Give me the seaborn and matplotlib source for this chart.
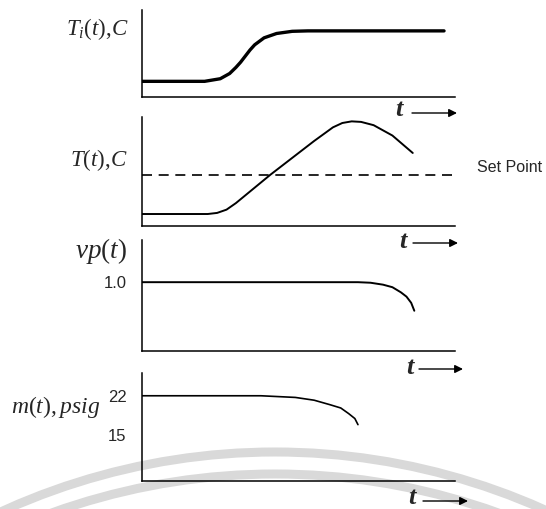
import matplotlib
matplotlib.use("Agg")
import matplotlib.pyplot as plt
from matplotlib.patches import Arc
import seaborn as sns

# ---- data ----
t_ti = [0, 2.0, 2.5, 2.8, 3.0, 3.15, 3.3, 3.45, 3.6, 3.9, 4.3, 4.8, 5.3, 9.65]
Ti = [0.18, 0.18, 0.21, 0.27, 0.34, 0.40, 0.47, 0.54, 0.60, 0.68, 0.73, 0.755, 0.76, 0.76]

t_T = [0, 2.1, 2.4, 2.7, 3.0, 4.1, 5.5, 6.1, 6.4, 6.7, 7.0, 7.4, 8.0, 8.65]
T = [0.11, 0.11, 0.12, 0.15, 0.21, 0.47, 0.78, 0.905, 0.945, 0.96, 0.955, 0.925, 0.83, 0.67]
set_point = 0.47

t_vp = [0, 6.9, 7.3, 7.7, 8.0, 8.27, 8.45, 8.6, 8.7]
vp = [1.0, 1.0, 0.992, 0.964, 0.927, 0.853, 0.79, 0.70, 0.585]

t_m = [0, 3.8, 4.9, 5.5, 6.0, 6.35, 6.6, 6.8, 6.9]
m = [22, 22, 21.7, 21.2, 20.4, 19.8, 18.8, 17.9, 16.8]

vp_ticks = [1.0]
vp_ticklabels = ["1.0"]
m_ticks = [22, 15]
m_ticklabels = ["22", "15"]

# ---- style ----
sns.set_style("white")
plt.rcParams["mathtext.fontset"] = "custom"
plt.rcParams["mathtext.it"] = "Liberation Serif:italic"
plt.rcParams["mathtext.rm"] = "Liberation Serif"
plt.rcParams["font.family"] = ["Liberation Sans", "DejaVu Sans"]

W, H = 546, 509
fig = plt.figure(figsize=(W / 100, H / 100), dpi=100)
fig.patch.set_facecolor("white")


def fx(x):
    return x / W


def fy(y):
    return 1 - y / H


# watermark arcs (behind everything)
for cy, r in [(1110, 658), (1134, 660)]:
    arc = Arc((275, H - cy), 2 * r, 2 * r, theta1=55, theta2=125,
              transform=None, color="#d9d9d9", lw=6.5, zorder=-5)
    fig.add_artist(arc)

left, right = 142, 455
panels = [(10, 97), (117, 226), (240, 351), (373, 481)]
axes = []
for top, bot in panels:
    ax = fig.add_axes([fx(left), fy(bot), fx(right - left), (bot - top) / H])
    ax.set_facecolor("none")
    ax.set_zorder(1)
    ax.set_xlim(0, 10)
    sns.despine(ax=ax)
    for s in ("left", "bottom"):
        ax.spines[s].set_color("black")
        ax.spines[s].set_linewidth(1.1)
    axes.append(ax)

ax1, ax2, ax3, ax4 = axes

sns.lineplot(x=t_ti, y=Ti, ax=ax1, color="black", lw=2.4)
ax1.set_ylim(0, 1)

ax2.axhline(set_point, xmin=0, xmax=1.0, color="black", lw=1.2, ls=(0, (6, 4)))
sns.lineplot(x=t_T, y=T, ax=ax2, color="black", lw=1.4)
ax2.set_ylim(0, 1)

sns.lineplot(x=t_vp, y=vp, ax=ax3, color="black", lw=1.4)
ax3.set_ylim(0, 1.613)

sns.lineplot(x=t_m, y=m, ax=ax4, color="black", lw=1.2)
ax4.set_ylim(6.65, 26.1)

for ax in axes:
    ax.set_xticks([])
    ax.set_yticks([])
    ax.set_xlabel("")
    ax.set_ylabel("")

ax3.set_yticks(vp_ticks)
ax3.set_yticklabels(vp_ticklabels, fontsize=12)
ax4.set_yticks(m_ticks)
ax4.set_yticklabels(m_ticklabels, fontsize=12)
for ax in (ax3, ax4):
    ax.tick_params(axis="y", length=0, pad=11)

# y labels
fig.text(fx(128), fy(29), r"$T_i(t){,}C$", ha="right", va="center", fontsize=16.5)
fig.text(fx(128), fy(160), r"$T(t){,}C$", ha="right", va="center", fontsize=16.5)
fig.text(fx(127), fy(251), r"$vp(t)$", ha="right", va="center", fontsize=19.5)
fig.text(fx(100), fy(407), r"$m(t),psig$", ha="right", va="center", fontsize=17)
fig.text(fx(477), fy(167), "Set Point", ha="left", va="center", fontsize=11.5)

# t arrows
for tx, ty, x0, x1, ay in [(399, 110, 412, 457, 113), (403, 241, 413, 458, 243),
                           (410, 367, 419, 463, 369), (412, 498, 423, 468, 501)]:
    fig.text(fx(tx), fy(ty), "t", ha="center", va="center", fontsize=19,
             family="Liberation Serif", style="italic", weight="bold", zorder=3)
    arr = matplotlib.patches.FancyArrowPatch((fx(x0), fy(ay)), (fx(x1), fy(ay)),
                                             transform=fig.transFigure,
                                             arrowstyle="-|>", color="black", lw=1.0,
                                             mutation_scale=12, shrinkA=0, shrinkB=0,
                                             zorder=3)
    fig.add_artist(arr)

fig.savefig("out.png", dpi=100, facecolor="white")
